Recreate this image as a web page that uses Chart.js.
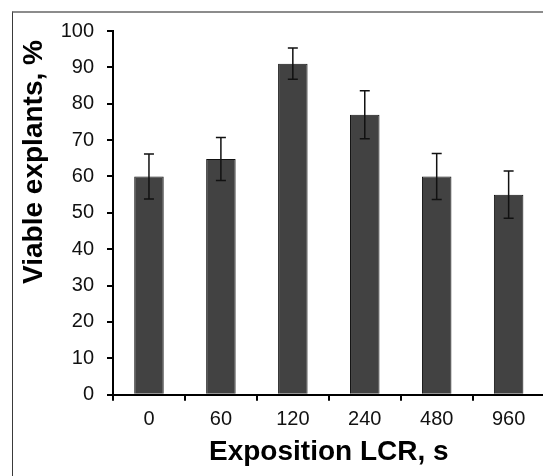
<!DOCTYPE html>
<html>
<head>
<meta charset="utf-8">
<script src="https://cdn.jsdelivr.net/npm/chart.js@4"></script>
<style>
    html, body { margin: 0; padding: 0; background: #fff; overflow: hidden; }
    #wrap { position: relative; width: 543px; height: 476px; overflow: hidden; }
    #frame { position: absolute; left: 12px; top: 11px; width: 600px; height: 600px;
             border-top: 2px solid #8c8c8c; border-left: 1px solid #3a3a3a; }
    #viabilityChart { position: absolute; left: 0; top: 0; }
</style>
</head>
<body>
<div id="wrap">
    <div id="frame"></div>
    <canvas id="viabilityChart" width="560" height="476"></canvas>
</div>
<script>
// Exposure times (s) and viable explants (%) with error bar half-widths
const categories = ['0', '60', '120', '240', '480', '960'];
const viable = [60, 64.8, 91, 77, 60, 55];
const errors = [6.2, 5.9, 4.3, 6.6, 6.3, 6.5];
const yTicks = [0, 10, 20, 30, 40, 50, 60, 70, 80, 90, 100];

const xTitle = 'Exposition LCR, s';
const yTitle = 'Viable explants, %';
const fontFamily = '"Liberation Sans", Arial, sans-serif';

// draws the +/- error bars from the bar positions
const errorBars = {
    id: 'errorBars',
    afterDatasetsDraw: function (chart) {
        var ctx = chart.ctx;
        var meta = chart.getDatasetMeta(0);
        var y = chart.scales.y;
        ctx.save();
        ctx.strokeStyle = '#111';
        ctx.lineWidth = 1.5;
        meta.data.forEach(function (bar, i) {
            var top = y.getPixelForValue(viable[i] + errors[i]);
            var bottom = y.getPixelForValue(viable[i] - errors[i]);
            ctx.beginPath();
            ctx.moveTo(bar.x, top);
            ctx.lineTo(bar.x, bottom);
            ctx.moveTo(bar.x - 5, top);
            ctx.lineTo(bar.x + 5, top);
            ctx.moveTo(bar.x - 5, bottom);
            ctx.lineTo(bar.x + 5, bottom);
            ctx.stroke();
        });
        ctx.restore();
    }
};

// y axis title sits a bit above the middle of the axis in the original
const yTitlePlugin = {
    id: 'yTitle',
    afterDraw: function (chart) {
        var ctx = chart.ctx;
        ctx.save();
        ctx.translate(34, chart.chartArea.top + 131);
        ctx.rotate(-Math.PI / 2);
        ctx.font = 'bold 28px ' + fontFamily;
        ctx.fillStyle = '#000';
        ctx.textAlign = 'center';
        ctx.textBaseline = 'middle';
        ctx.fillText(yTitle, 0, 0);
        ctx.restore();
    }
};

var ctx = document.getElementById('viabilityChart').getContext('2d');
var viabilityChart = new Chart(ctx, {
    type: 'bar',
    data: {
        labels: categories,
        datasets: [{
            data: viable,
            backgroundColor: '#424242',
            borderColor: '#111111',
            borderWidth: 1,
            barPercentage: 0.41,
            categoryPercentage: 1
        }]
    },
    options: {
        responsive: false,
        animation: false,
        layout: { padding: { top: 31, right: 15.4, bottom: 0, left: 0 } },
        plugins: {
            legend: { display: false },
            tooltip: { enabled: false }
        },
        scales: {
            x: {
                offset: true,
                grid: { offset: true, drawOnChartArea: false, tickLength: 6, color: '#000', lineWidth: 2 },
                border: { color: '#000', width: 2 },
                ticks: { color: '#111', padding: 7, font: { family: fontFamily, size: 20 } },
                title: {
                    display: true,
                    text: xTitle,
                    color: '#000',
                    font: { family: fontFamily, size: 28, weight: 'bold' },
                    padding: { top: 0, bottom: 6.6 }
                },
                afterFit: function (scale) { scale.height = 81.3; }
            },
            y: {
                min: yTicks[0],
                max: yTicks[yTicks.length - 1],
                afterBuildTicks: function (scale) {
                    scale.ticks = yTicks.map(function (v) { return { value: v }; });
                },
                grid: { drawOnChartArea: false, tickLength: 6, color: '#000', lineWidth: 2 },
                border: { color: '#000', width: 2 },
                ticks: { color: '#111', padding: 13, font: { family: fontFamily, size: 20 } },
                afterFit: function (scale) { scale.width = 113; }
            }
        }
    },
    plugins: [errorBars, yTitlePlugin]
});
</script>
</body>
</html>
